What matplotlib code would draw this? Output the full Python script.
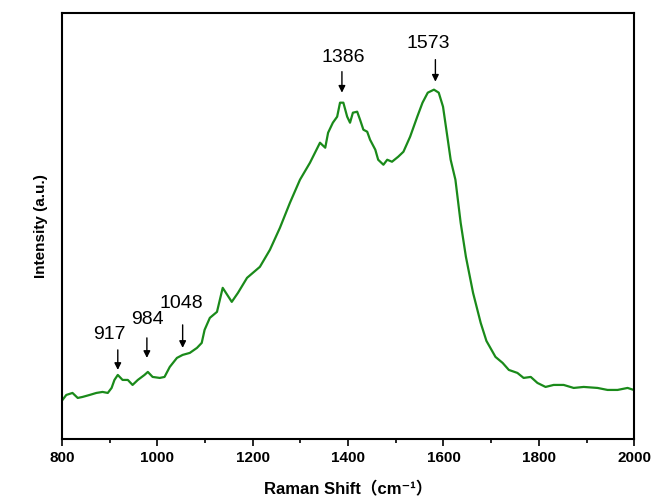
import numpy as np
import matplotlib
matplotlib.use('Agg')
import matplotlib.pyplot as plt
from matplotlib.ticker import MultipleLocator

# Raman spectrum
shift = [801, 809, 822, 833, 843, 858, 872, 885, 896, 904, 910, 917, 927, 938,
         948, 959, 973, 980, 990, 1005, 1015, 1026, 1041, 1053, 1068, 1083, 1093,
         1099, 1110, 1125, 1137, 1156, 1169, 1188, 1215, 1236, 1257, 1278, 1299,
         1320, 1341, 1352, 1358, 1368, 1377, 1383, 1390, 1398, 1404, 1410, 1419,
         1425, 1432, 1440, 1446, 1457, 1463, 1474, 1482, 1492, 1505, 1516, 1530,
         1545, 1556, 1567, 1580, 1590, 1599, 1609, 1615, 1625, 1636, 1647, 1662,
         1678, 1690, 1709, 1724, 1737, 1755, 1768, 1783, 1797, 1814, 1831, 1852,
         1873, 1894, 1923, 1944, 1965, 1986, 1999]
intensity = [39, 44, 46, 41, 42, 44, 46, 47, 46, 51, 59, 64, 59, 59,
             54, 59, 64, 67, 62, 61, 62, 72, 81, 84, 86, 91, 96,
             109, 121, 127, 151, 137, 146, 161, 172, 189, 211, 236, 259,
             276, 296, 291, 306, 316, 322, 336, 336, 322, 316, 326, 327,
             319, 309, 307, 299, 289, 279, 274, 279, 277, 282, 287, 302,
             322, 336, 346, 349, 346, 332, 299, 279, 259, 216, 182, 146,
             116, 98, 82, 76, 69, 66, 61, 62, 56, 52, 54, 54,
             51, 52, 51, 49, 49, 51, 49]

# peak labels
peak_labels = ['917', '984', '1048', '1386', '1573']
arrow_x = [917, 978, 1053, 1387, 1583]
arrow_tip = [69, 81, 91, 346, 357]
arrow_tail = [89, 101, 114, 367, 379]
text_x = [900, 980, 1051, 1389, 1568]
text_y = [96, 111, 127, 373, 387]

fig = plt.figure(figsize=(6.54, 5.04), dpi=100)
ax = fig.add_axes([0.0948, 0.129, 0.875, 0.846])

ax.plot(shift, intensity, color='#1a8a1a', lw=1.6)

for lab, ax_x, tip, tail, tx, ty in zip(peak_labels, arrow_x, arrow_tip, arrow_tail, text_x, text_y):
    ax.annotate('', xy=(ax_x, tip), xytext=(ax_x, tail),
                arrowprops=dict(arrowstyle='-|>', color='black', lw=1.0,
                                mutation_scale=10, shrinkA=0, shrinkB=0))
    ax.text(tx, ty, lab, ha='center', va='bottom', fontsize=14,
            family=['Liberation Sans', 'DejaVu Sans'])

ax.set_xlim(800, 2000)
ax.set_ylim(0, 426)
ax.xaxis.set_major_locator(MultipleLocator(200))
ax.xaxis.set_minor_locator(MultipleLocator(100))
ax.set_yticks([])
ax.tick_params(axis='x', which='major', direction='out', length=5, width=1.2)
ax.tick_params(axis='x', which='minor', direction='out', length=3, width=1.2)
for lbl in ax.get_xticklabels():
    lbl.set_fontfamily(['Liberation Sans', 'DejaVu Sans'])
    lbl.set_fontweight('bold')
    lbl.set_fontsize(11)
for sp in ax.spines.values():
    sp.set_linewidth(1.5)

ax.set_xlabel('Raman Shift（cm⁻¹）', fontsize=12, fontweight='bold',
              family=['Liberation Sans', 'Noto Sans CJK SC', 'DejaVu Sans'],
              labelpad=12)
ax.set_ylabel('Intensity (a.u.)', fontsize=11, fontweight='bold',
              family=['Liberation Sans', 'DejaVu Sans'], labelpad=10)

fig.savefig('out.png', dpi=100)
